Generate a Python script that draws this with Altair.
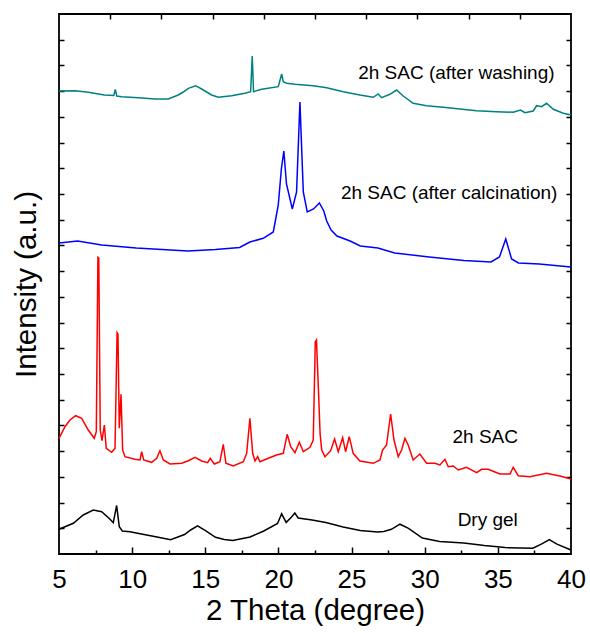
import altair as alt
import pandas as pd

# ---- data (2-theta in degree, intensity in a.u. incl. stacking offset) ----
dry_x = [5.0, 5.98, 6.66, 7.34, 7.92, 8.49, 8.71, 8.94, 9.12, 9.33, 9.85, 10.99, 11.79, 12.63, 13.58,
         14.0, 14.47, 14.99, 15.7, 16.3, 16.88, 18.06, 19.0, 19.94, 20.22, 20.53, 20.88, 21.12, 21.35,
         22.3, 23.24, 24.42, 25.59, 26.77, 27.2, 27.72, 28.31, 28.89, 29.84, 31.02, 32.67, 34.08, 35.5,
         37.39, 37.97, 38.52, 39.04, 40.0]
dry_y = [24.7, 30.7, 39, 44, 42.3, 34.7, 31.3, 48.5, 27.3, 23, 22.3, 19, 16.7, 14.3, 19.5,
         24, 28.1, 23.6, 16.7, 14.5, 13.6, 17, 23, 30.5, 40.2, 31.6, 36.7, 40.9, 36,
         34, 31.6, 27.1, 23.6, 21.9, 22.5, 24.7, 29.8, 25.7, 16, 12.6, 10.9, 8.4, 6.4,
         5.7, 9.8, 14.3, 9.8, 4]

sac_x = [5.0, 5.41, 5.75, 6.14, 6.55, 7.0, 7.41, 7.55, 7.66, 7.72, 7.82, 7.94, 8.1, 8.23, 8.6,
         8.83, 8.97, 9.03, 9.12, 9.24, 9.35, 9.51, 10.19, 10.54, 10.65, 10.79, 11.33, 11.68, 11.9,
         12.13, 12.59, 13.39, 13.84, 14.3, 14.75, 15.16, 15.34, 15.62, 16.0, 16.23, 16.41, 16.91,
         17.6, 17.83, 18.05, 18.24, 18.4, 18.58, 18.74, 19.31, 19.87, 20.33, 20.6, 20.84, 21.13,
         21.43, 21.7, 22.16, 22.38, 22.52, 22.6, 22.72, 22.85, 22.96, 23.18, 23.57, 23.84, 24.09,
         24.39, 24.59, 24.84, 25.11, 25.57, 26.48, 26.94, 27.12, 27.39, 27.67, 27.9, 28.19, 28.42,
         28.65, 28.87, 29.21, 29.67, 30.13, 30.7, 31.04, 31.38, 31.61, 31.95, 32.29, 32.86, 33.55,
         33.89, 34.34, 35.14, 35.83, 36.05, 36.39, 37.19, 38.33, 39.24, 40.0]
sac_y = [115.7, 127.3, 134, 138.3, 135.7, 124, 115.7, 122.3, 296.7, 296, 124, 113.3, 129, 105.7, 101.7,
         105.7, 221.3, 220, 125.7, 159.7, 104, 97.3, 94.7, 94, 102.3, 94, 91.7, 95.7, 103.3,
         94, 90, 90.7, 93.3, 96.7, 93, 91.3, 95.7, 90, 92.3, 109.7, 90.7, 88,
         92.3, 100.7, 135.7, 100.7, 93, 97.3, 92.3, 95.7, 99, 100.7, 119.7, 107.3, 101.3,
         111.7, 102.3, 106.7, 114, 212, 214, 170, 120, 104, 97.3, 103.3, 115, 102.3,
         116.3, 102.3, 117.3, 100.7, 93, 90.7, 94, 104, 109, 140, 114, 97.3, 104,
         115.7, 109, 94, 100, 90.7, 90.7, 89, 94.7, 87.3, 88, 84, 86.7, 81.3,
         84.7, 84.7, 80, 80, 86.7, 78.3, 77.3, 80.7, 78, 75]

calc_x = [5.0, 6.27, 7.92, 10.28, 12.63, 13.81, 15.7, 17.35, 18.05, 18.96, 19.65, 19.99, 20.2, 20.37,
          20.55, 20.95, 21.24, 21.47, 21.7, 21.97, 22.4, 22.8, 23.1, 23.3, 23.6, 24.0, 24.9, 25.6,
          26.8, 27.95, 30.31, 32.67, 34.53, 35.11, 35.54, 35.94, 36.41, 37.83, 40.0]
calc_y = [311, 313, 309, 306, 304, 303, 304.5, 306.5, 312, 315.7, 322, 349, 385, 403,
          370, 345, 362, 452, 362, 342, 345, 351, 343, 333, 324, 318, 313, 308,
          306, 301, 297, 293.5, 292, 297, 315, 295, 291, 290, 287]

wash_x = [5.0, 6.1, 7.0, 8.1, 8.75, 8.85, 8.95, 9.28, 10.42, 11.56, 12.47, 13.15, 13.5, 13.84, 14.34,
          14.75, 15.43, 15.89, 16.8, 17.71, 18.1, 18.21, 18.3, 18.85, 19.99, 20.22, 20.33, 20.56,
          21.13, 22.38, 23.3, 24.43, 25.57, 26.48, 26.82, 27.05, 27.62, 28.08, 28.53, 29.21, 30.13,
          31.27, 32.4, 33.55, 34.91, 36.05, 36.55, 36.85, 37.42, 37.65, 37.99, 38.33, 38.79, 39.47,
          40.0]
wash_y = [463, 463.3, 461.7, 459, 458.5, 464.7, 458, 457.3, 456.3, 455, 455, 459, 462, 465.7, 468.3,
          465, 459, 456.7, 458.3, 460.7, 462.3, 498, 462.3, 464.7, 467.3, 480, 472.3, 470.7,
          469.7, 468.3, 466.3, 462.3, 459, 456.7, 460, 456.3, 459.7, 464, 458, 450.7, 448.3,
          446.7, 445, 443.3, 442.3, 441.7, 444, 441.3, 443, 448.3, 447.3, 450.7, 444.7, 440.7,
          439]

names = ["2h SAC (after washing)", "2h SAC (after calcination)", "2h SAC", "Dry gel"]
colors = ["#008080", "#0000ff", "#ff0000", "#000000"]
label_x = [25.45, 24.27, 31.9, 32.25]
label_y = [481, 361, 117, 34]

major_x = [5, 10, 15, 20, 25, 30, 35, 40]
minor_x = [7.5, 12.5, 17.5, 22.5, 27.5, 32.5, 37.5]

# ---- build tables ----
rows = []
for name, xs, ys in [(names[0], wash_x, wash_y), (names[1], calc_x, calc_y),
                     (names[2], sac_x, sac_y), (names[3], dry_x, dry_y)]:
    assert len(xs) == len(ys), name
    for a, b in zip(xs, ys):
        rows.append({"series": name, "theta": a, "intensity": b})
df = pd.DataFrame(rows)
lab_df = pd.DataFrame({"label": names, "theta": label_x, "intensity": label_y})
dummy = pd.DataFrame({"theta": [5.0], "intensity": [0.0]})

FONT = "Liberation Sans"
xscale = alt.Scale(domain=[5, 40], nice=False, zero=False)
yscale = alt.Scale(domain=[0, 540], nice=False, zero=False)

lines = alt.Chart(df).mark_line(strokeWidth=1.5).encode(
    x=alt.X("theta:Q", scale=xscale,
            axis=alt.Axis(orient="bottom", values=major_x, ticks=False, domain=False, grid=False,
                          labelFont=FONT, labelFontSize=26, labelColor="black", labelPadding=12,
                          labelFlush=False, title="2 Theta (degree)", titleFont=FONT,
                          titleFontSize=29.5, titleFontWeight="normal", titleColor="black",
                          titlePadding=4)),
    y=alt.Y("intensity:Q", scale=yscale,
            axis=alt.Axis(orient="left", labels=False, ticks=False, domain=False, grid=False,
                          title="Intensity (a.u.)", titleFont=FONT, titleFontSize=29.5,
                          titleFontWeight="normal", titleColor="black", titlePadding=18)),
    color=alt.Color("series:N", scale=alt.Scale(domain=names, range=colors), legend=None),
)

texts = alt.Chart(lab_df).mark_text(align="left", baseline="middle", font=FONT,
                                    fontSize=19, color="black").encode(
    x=alt.X("theta:Q", scale=xscale, axis=None),
    y=alt.Y("intensity:Q", scale=yscale, axis=None),
    text="label:N",
)


def tick_layer(orient, values, size):
    ax = alt.Axis(orient=orient, values=values, tickSize=size, offset=-size, labels=False,
                  domain=False, grid=False, title=None, tickColor="black", tickWidth=1.5)
    if orient in ("bottom", "top"):
        enc = dict(x=alt.X("theta:Q", scale=xscale, axis=ax),
                   y=alt.Y("intensity:Q", scale=yscale, axis=None))
    else:
        enc = dict(x=alt.X("theta:Q", scale=xscale, axis=None),
                   y=alt.Y("intensity:Q", scale=yscale, axis=ax))
    return alt.Chart(dummy).mark_point(opacity=0).encode(**enc)


y_ticks = [540 / 21 * k for k in range(1, 21)]
top_ticks = [5 + 3.5 * k for k in range(1, 10)]

chart = alt.layer(
    lines, texts,
    tick_layer("bottom", major_x[1:-1], 7),
    tick_layer("bottom", minor_x, 4),
    tick_layer("top", top_ticks, 5),
    tick_layer("left", y_ticks, 5),
    tick_layer("right", y_ticks, 5),
).resolve_axis(x="independent", y="independent").properties(
    width=512, height=540,
    autosize=alt.AutoSizeParams(type="none"),
    padding={"left": 59, "top": 14, "right": 19, "bottom": 79},
    background="white",
).configure_view(stroke="black", strokeWidth=1.8)

chart.save("out.html", embed_options={"renderer": "svg", "actions": False})
